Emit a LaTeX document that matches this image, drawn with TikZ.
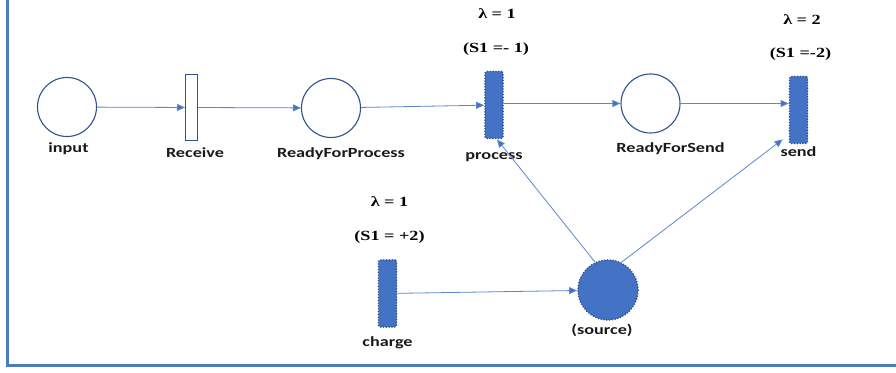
\documentclass[tikz,border=0pt]{standalone}
\usepackage{fontspec}
\usepackage{xcolor}
\newfontfamily\tagfont{Carlito}[FakeStretch=1.3]
\newfontfamily\ratefont{Liberation Serif}[FakeStretch=1.3]
\usetikzlibrary{arrows.meta, positioning}

\definecolor{placeline}{HTML}{2F528F}
\definecolor{tokenblue}{HTML}{4472C4}
\definecolor{arcblue}{HTML}{5B87CC}
\definecolor{framecol}{HTML}{4A7EBB}
\definecolor{tagtext}{HTML}{1A1A1A}

\begin{document}
\begin{tikzpicture}[
            x=1pt, y=1pt,
            place/.style={circle, draw=placeline, line width=1.1pt, minimum size=59pt, inner sep=0pt},
            token/.style={circle, fill=tokenblue, draw=placeline, line width=1.8pt, dash pattern=on 0pt off 2.8pt, line cap=round, minimum size=60pt, inner sep=0pt},
            trans/.style={rectangle, draw=placeline, line width=1pt, fill=white, minimum width=12pt, minimum height=66pt, inner sep=0pt},
            timed/.style={rectangle, rounded corners=1.5pt, fill=tokenblue, draw=placeline, line width=1.8pt, dash pattern=on 0pt off 2.8pt, line cap=round, minimum width=18pt, minimum height=67pt, inner sep=0pt},
            tag/.style={font=\tagfont\bfseries\fontsize{14}{16}\selectfont, text=tagtext, inner sep=0pt, text height=10pt, text depth=3pt},
            rate/.style={font=\ratefont\bfseries\fontsize{14}{16}\selectfont, text=black, inner sep=0pt, text height=10pt, text depth=3pt},
            arc/.style={draw=arcblue, line width=0.8pt, -{Triangle[length=8pt, width=7pt, fill=tokenblue]}}
        ]
        \useasboundingbox (0,0) rectangle (896,372);
        \draw[framecol, line width=2.2pt] (7.5,372) -- (7.5,6.5) -- (896,6.5);

        % Places
        \node[place] (input) at (67,265) {};
        \node[place] (rfp) at (331,264) {};
        \node[place] (rfs) at (650.5,268.5) {};
        \node[token] (source) at (608,82) {};

        % Transitions
        \node[trans] (receive) at (191.5,264.5) {};
        \node[timed] (process) at (494,267) {};
        \node[timed] (send) at (798.5,262) {};
        \node[timed] (charge) at (387.5,78.5) {};

        % Names
        \node[tag, below=5.4pt of input, xshift=1.5pt] (inputname) {input};
        \node[tag, below=6.5pt of receive, xshift=3.5pt] (receivename) {Receive};
        \node[tag, below=9.5pt of rfp, xshift=10pt] (rfpname) {ReadyForProcess};
        \node[tag, below=9.5pt of process] (processname) {process};
        \node[tag, below=8.9pt of rfs, xshift=20pt] (rfsname) {ReadyForSend};
        \node[tag, below=2pt of send] (sendname) {send};
        \node[tag, below=8.5pt of charge] (chargename) {charge};
        \node[tag, below=3pt of source, xshift=-6pt] (sourcename) {(source)};

        % Rates
        \node[rate, above=15pt of process, xshift=2pt] (processsw) {(S1 =- 1)};
        \node[rate, above=20.5pt of processsw, xshift=1pt] (processrate) {λ = 1};
        \node[rate, above=15pt of send, xshift=2pt] (sendsw) {(S1 =-2)};
        \node[rate, above=19.5pt of sendsw, xshift=1.5pt] (sendrate) {λ = 2};
        \node[rate, above=15pt of charge, xshift=2pt] (chargesw) {(S1 = +2)};
        \node[rate, above=20.5pt of chargesw] (chargerate) {λ = 1};

        % Arcs
        \draw[arc] (input) -- (receive);
        \draw[arc] (receive) -- (rfp);
        \draw[arc] (rfp) -- (process);
        \draw[arc] (process.east |- rfs) -- (rfs);
        \draw[arc] (rfs) -- (rfs -| send.west);
        \draw[arc] (charge) -- (source);
        \draw[arc] (source.115) -- ([xshift=3pt]process.south);
        \draw[arc] (source.64) -- ([shift={(-6pt,5pt)}]send.south west);

    \end{tikzpicture}
\end{document}
